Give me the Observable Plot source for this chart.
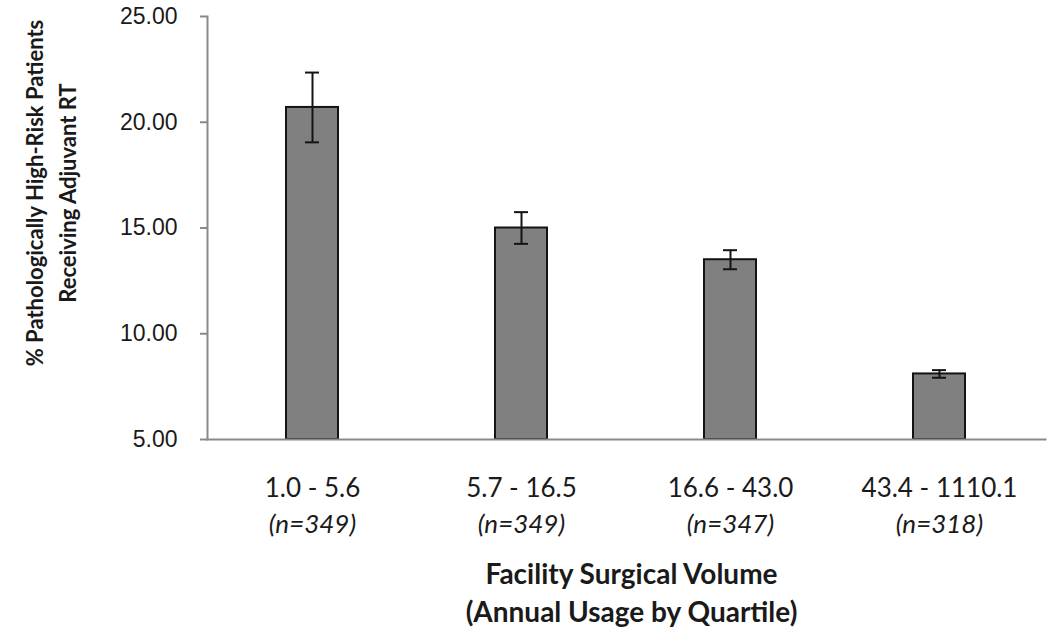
<!DOCTYPE html>
<html>
<head>
<meta charset="utf-8">
<script src="https://cdn.jsdelivr.net/npm/d3@7"></script>
<script src="https://cdn.jsdelivr.net/npm/@observablehq/plot@0.6"></script>
<style>
  html, body { margin: 0; padding: 0; background: #fff; }
</style>
</head>
<body>
<div id="chart"></div>
<script>
const categories = ["1.0 - 5.6", "5.7 - 16.5", "16.6 - 43.0", "43.4 - 1110.1"];
const sampleSizes = ["(n=349)", "(n=349)", "(n=347)", "(n=318)"];
const values = [20.7, 15.0, 13.5, 8.1];
const errors = [1.65, 0.75, 0.45, 0.18];
const yTicks = [5, 10, 15, 20, 25];
const yTitle = ["% Pathologically High-Risk Patients", "Receiving Adjuvant RT"];
const xTitle = ["Facility Surgical Volume", "(Annual Usage by Quartile)"];

const data = categories.map((c, i) => ({
  cat: c, n: sampleSizes[i], v: values[i], lo: values[i] - errors[i], hi: values[i] + errors[i]
}));

const titleFont = "Lato, Carlito, Calibri, 'Open Sans', sans-serif";
const labelFont = "Lato, Carlito, Calibri, 'Open Sans', sans-serif";
const ink = "#1a1a1a";

const chart = Plot.plot({
  width: 1050,
  height: 633,
  marginLeft: 207,
  marginRight: 5,
  marginTop: 16,
  marginBottom: 194,
  style: { background: "#fff", fontFamily: "'Liberation Sans', Arial, sans-serif", color: ink, overflow: "visible" },
  x: { domain: categories, paddingInner: 0.75, paddingOuter: 0.375, axis: null },
  y: { domain: [5, 25], axis: null },
  marks: [
    Plot.axisY({
      ticks: yTicks, tickFormat: d3.format(".2f"), tickSize: 7, tickPadding: 23,
      stroke: "#8a8a8a", strokeWidth: 2, fontSize: 23, fill: ink, label: null
    }),
    Plot.barY(data, { x: "cat", y1: 5, y2: "v", fill: "#808080", stroke: "#141414", strokeWidth: 2 }),
    Plot.ruleX(data, { x: "cat", y1: "lo", y2: "hi", stroke: "#141414", strokeWidth: 2 }),
    Plot.tickY(data, { x: "cat", y: "hi", stroke: "#141414", strokeWidth: 2, insetLeft: 19, insetRight: 19 }),
    Plot.tickY(data, { x: "cat", y: "lo", stroke: "#141414", strokeWidth: 2, insetLeft: 19, insetRight: 19 }),
    Plot.frame({ anchor: "left", stroke: "#8a8a8a", strokeWidth: 2 }),
    Plot.frame({ anchor: "bottom", stroke: "#8a8a8a", strokeWidth: 2 }),
    Plot.text(data, { x: "cat", text: "cat", frameAnchor: "bottom", lineAnchor: "middle", dy: 49, fontSize: 26, fontFamily: labelFont, fill: ink }),
    Plot.text(data, { x: "cat", text: "n", frameAnchor: "bottom", lineAnchor: "middle", dy: 85, fontSize: 26, fontStyle: "italic", fontFamily: labelFont, fill: ink }),
    Plot.text([xTitle[0]], { text: d => d, frameAnchor: "bottom", lineAnchor: "middle", dx: 5, dy: 136, fontSize: 28, fontWeight: "bold", fontFamily: titleFont, fill: ink }),
    Plot.text([xTitle[1]], { text: d => d, frameAnchor: "bottom", lineAnchor: "middle", dx: 5, dy: 174, fontSize: 28, fontWeight: "bold", fontFamily: titleFont, fill: ink }),
    Plot.text([yTitle[0]], { text: d => d, frameAnchor: "left", textAnchor: "middle", lineAnchor: "middle", rotate: -90, dx: -172, dy: -35, fontSize: 22, fontWeight: "bold", fontFamily: titleFont, fill: ink }),
    Plot.text([yTitle[1]], { text: d => d, frameAnchor: "left", textAnchor: "middle", lineAnchor: "middle", rotate: -90, dx: -139, dy: -35, fontSize: 22, fontWeight: "bold", fontFamily: titleFont, fill: ink })
  ]
});
document.getElementById("chart").appendChild(chart);
</script>
</body>
</html>
